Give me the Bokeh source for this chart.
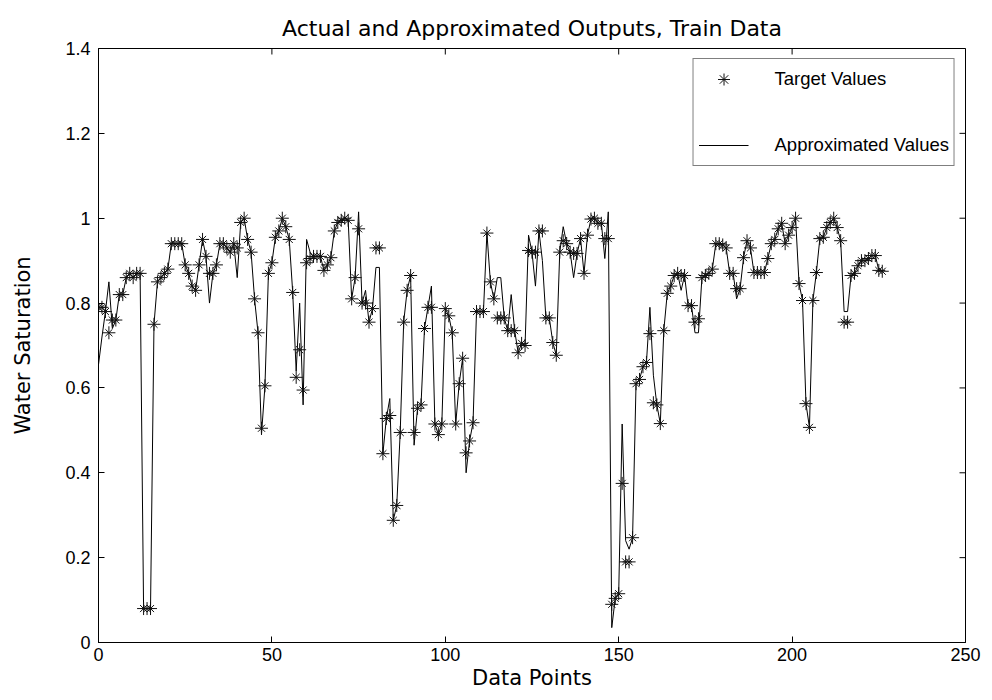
import math
from bokeh.plotting import figure
from bokeh.models import Legend, LegendItem, FixedTicker, Range1d
from bokeh.embed import file_html
from bokeh.resources import INLINE

target = [
0.79,0.79,0.78,0.73,0.76,0.76,0.82,0.82,0.86,0.87,
0.86,0.87,0.87,0.08,0.08,0.08,0.75,0.85,0.86,0.87,
0.88,0.94,0.94,0.94,0.94,0.89,0.87,0.84,0.83,0.89,
0.95,0.91,0.87,0.87,0.89,0.94,0.94,0.93,0.92,0.94,
0.93,0.99,1.00,0.95,0.92,0.81,0.73,0.505,0.605,0.87,
0.895,0.955,0.97,1.00,0.98,0.95,0.825,0.625,0.69,0.595,
0.895,0.905,0.91,0.91,0.91,0.877,0.89,0.907,0.97,0.99,
0.995,1.00,0.995,0.81,0.86,0.975,0.80,0.80,0.755,0.787,
0.93,0.93,0.445,0.528,0.535,0.288,0.323,0.495,0.755,0.83,
0.865,0.495,0.552,0.56,0.74,0.79,0.79,0.515,0.49,0.515,
0.787,0.77,0.73,0.515,0.61,0.67,0.447,0.475,0.518,0.78,
0.78,0.78,0.965,0.85,0.81,0.765,0.765,0.765,0.735,0.735,
0.735,0.683,0.705,0.70,0.924,0.92,0.92,0.97,0.97,0.765,
0.765,0.707,0.677,0.92,0.947,0.94,0.92,0.917,0.917,0.952,
0.87,0.96,0.998,1.00,0.988,0.988,0.952,0.952,0.09,0.104,
0.115,0.375,0.19,0.19,0.247,0.61,0.62,0.65,0.66,0.728,
0.565,0.56,0.516,0.735,0.823,0.84,0.865,0.87,0.865,0.865,
0.794,0.794,0.755,0.763,0.86,0.865,0.87,0.88,0.94,0.94,
0.937,0.93,0.87,0.87,0.834,0.834,0.907,0.947,0.93,0.872,
0.872,0.872,0.872,0.905,0.94,0.95,0.975,0.988,0.94,0.96,
0.978,1.00,0.846,0.806,0.563,0.507,0.806,0.872,0.952,0.955,
0.978,0.99,1.00,0.978,0.947,0.755,0.755,0.865,0.87,0.888,
0.90,0.90,0.905,0.912,0.912,0.877,0.875]

approx = [
0.655,0.72,0.78,0.85,0.74,0.76,0.82,0.82,0.86,0.87,
0.86,0.87,0.87,0.08,0.08,0.08,0.75,0.85,0.86,0.87,
0.88,0.94,0.94,0.94,0.94,0.89,0.87,0.84,0.83,0.89,
0.95,0.91,0.80,0.87,0.89,0.94,0.94,0.93,0.92,0.94,
0.86,0.99,1.00,0.95,0.92,0.81,0.73,0.49,0.605,0.87,
0.895,0.955,0.97,1.00,0.98,0.95,0.825,0.64,0.80,0.56,
0.95,0.92,0.91,0.91,0.91,0.877,0.89,0.907,0.97,0.99,
0.995,1.00,0.995,0.81,0.86,1.015,0.80,0.83,0.755,0.787,
0.884,0.884,0.445,0.528,0.575,0.288,0.323,0.495,0.755,0.83,
0.865,0.465,0.552,0.56,0.74,0.79,0.84,0.515,0.49,0.515,
0.787,0.77,0.73,0.515,0.61,0.67,0.40,0.475,0.518,0.78,
0.78,0.78,0.965,0.85,0.81,0.86,0.86,0.765,0.735,0.82,
0.735,0.683,0.705,0.70,0.96,0.92,0.84,0.97,0.90,0.765,
0.765,0.707,0.677,0.92,0.98,0.94,0.92,0.86,0.917,0.952,
0.87,0.96,0.998,1.00,0.988,0.988,0.905,1.015,0.035,0.104,
0.115,0.515,0.24,0.22,0.247,0.61,0.62,0.65,0.66,0.79,
0.63,0.56,0.516,0.735,0.823,0.84,0.865,0.87,0.83,0.865,
0.794,0.794,0.73,0.73,0.86,0.865,0.87,0.88,0.94,0.94,
0.937,0.93,0.87,0.87,0.81,0.834,0.907,0.947,0.93,0.872,
0.872,0.872,0.872,0.905,0.94,0.95,0.975,0.988,0.94,0.96,
0.978,1.00,0.846,0.806,0.563,0.507,0.806,0.872,0.952,0.955,
0.978,0.99,1.00,0.978,0.947,0.78,0.78,0.865,0.87,0.888,
0.90,0.90,0.905,0.912,0.912,0.877,0.875]

x = list(range(len(target)))
x_ticks = [0, 50, 100, 150, 200, 250]
y_ticks = [0, 0.2, 0.4, 0.6, 0.8, 1.0, 1.2, 1.4]
y_labels = {0: "0", 0.2: "0.2", 0.4: "0.4", 0.6: "0.6", 0.8: "0.8", 1.0: "1", 1.2: "1.2", 1.4: "1.4"}
x_min, x_max = 0, 250
y_min, y_max = 0, 1.4

FONT = "Liberation Sans"
BIG = "DejaVu Sans"

p = figure(width=984, height=692, output_backend="svg", toolbar_location=None,
           x_range=Range1d(x_min, x_max), y_range=Range1d(y_min, y_max),
           title="Actual and Approximated Outputs, Train Data",
           min_border_left=98, min_border_right=19, min_border_top=48, min_border_bottom=50)
p.title.align = "center"
p.title.text_font = BIG
p.title.text_font_size = "22px"
p.title.text_font_style = "normal"
p.title.text_color = "black"
p.title.standoff = 16
p.xgrid.visible = False
p.ygrid.visible = False
p.outline_line_color = "black"
p.outline_line_width = 1
p.background_fill_color = "white"
p.border_fill_color = "white"

for ax in (p.xaxis[0], p.yaxis[0]):
    ax.major_tick_in = 6
    ax.major_tick_out = 0
    ax.minor_tick_line_color = None
    ax.major_label_text_font = FONT
    ax.major_label_text_font_size = "18px"
    ax.major_label_text_color = "black"
    ax.axis_label_text_font = BIG
    ax.axis_label_text_font_size = "21px"
    ax.axis_label_text_font_style = "normal"
    ax.axis_label_text_color = "black"
    ax.axis_line_color = "black"
    ax.major_tick_line_color = "black"

p.xaxis[0].ticker = FixedTicker(ticks=x_ticks)
p.yaxis[0].ticker = FixedTicker(ticks=y_ticks)
p.yaxis[0].major_label_overrides = y_labels
p.xaxis[0].axis_label = "Data Points"
p.yaxis[0].axis_label = "Water Saturation"
p.xaxis[0].axis_label_standoff = 2
p.yaxis[0].axis_label_standoff = 27
p.xaxis[0].major_label_standoff = 5
p.yaxis[0].major_label_standoff = 8

# tick marks on the top and right edges of the box
p.ray(x=x_ticks, y=[y_max] * len(x_ticks), length=6, length_units="screen",
      angle=-math.pi / 2, line_color="black", line_width=1)
p.ray(x=[x_max] * len(y_ticks), y=y_ticks, length=6, length_units="screen",
      angle=math.pi, line_color="black", line_width=1)

ln = p.line(x, approx, line_color="black", line_width=1)
c1 = p.scatter(x, target, marker="cross", size=13, line_color="#111111", line_width=1)
c2 = p.scatter(x, target, marker="x", size=10, line_color="#111111", line_width=1)

legend = Legend(items=[LegendItem(label="Target Values", renderers=[c1, c2]),
                       LegendItem(label="Approximated Values", renderers=[ln])],
                location="top_right")
legend.label_text_font = FONT
legend.label_text_font_size = "18.5px"
legend.label_text_color = "black"
legend.border_line_color = "black"
legend.border_line_width = 1
legend.glyph_width = 50
legend.glyph_height = 30
legend.label_height = 30
legend.label_standoff = 26
legend.spacing = 36
legend.padding = 5
legend.margin = 10
legend.background_fill_alpha = 1
p.add_layout(legend, "center")

open("out.html", "w").write(file_html(p, INLINE))
